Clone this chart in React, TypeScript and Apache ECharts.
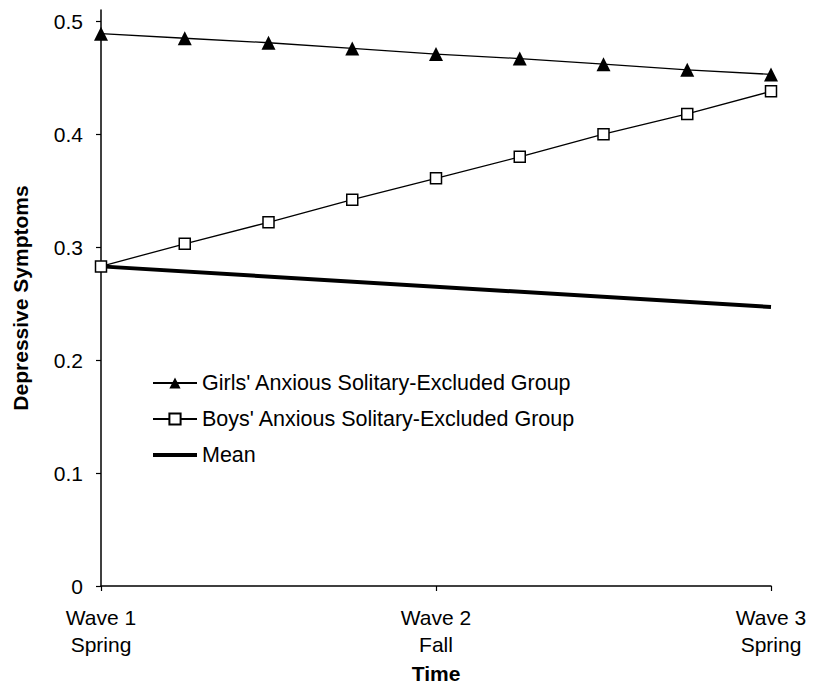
import React, { useEffect, useRef } from "react";
import * as echarts from "echarts";

const xTickLabels: Record<number, string> = { 0: "Wave 1\nSpring", 4: "Wave 2\nFall", 8: "Wave 3\nSpring" };
const xPositions = [0, 1, 2, 3, 4, 5, 6, 7, 8];
const girlsValues = [0.489, 0.485, 0.481, 0.476, 0.471, 0.467, 0.462, 0.457, 0.453];
const boysValues = [0.283, 0.303, 0.322, 0.342, 0.361, 0.38, 0.4, 0.418, 0.438];
const meanPoints: [number, number][] = [[0, 0.283], [8, 0.247]];
const yTicks = [0, 0.1, 0.2, 0.3, 0.4, 0.5];
const seriesNames = [
  "Girls' Anxious Solitary-Excluded Group",
  "Boys' Anxious Solitary-Excluded Group",
  "Mean",
];

const FONT = "'Liberation Sans', Arial, Helvetica, sans-serif";

export default function App() {
  const ref = useRef<HTMLDivElement>(null);
  useEffect(() => {
    if (!ref.current) return;
    const chart = echarts.init(ref.current, undefined, { renderer: "svg" });
    chart.setOption({
      animation: false,
      backgroundColor: "#ffffff",
      textStyle: { fontFamily: FONT, color: "#000" },
      grid: { left: 101, right: 42, top: 10, bottom: 101, containLabel: false, outerBoundsMode: "none" },
      legend: {
        orient: "vertical",
        left: 146,
        top: 367,
        itemWidth: 44,
        itemHeight: 14,
        itemGap: 14,
        textStyle: { fontFamily: FONT, fontSize: 21.5, color: "#000" },
        data: [
          { name: seriesNames[0] },
          { name: seriesNames[1] },
          {
            name: seriesNames[2],
            itemStyle: { color: "rgba(0,0,0,0)", borderWidth: 0 },
            lineStyle: { width: 4, color: "#000" },
          },
        ],
      },
      xAxis: {
        type: "value",
        min: 0,
        max: 8,
        interval: 4,
        name: "Time",
        nameLocation: "middle",
        nameGap: 76,
        nameTextStyle: { fontFamily: FONT, fontSize: 21, fontWeight: "bold", color: "#000" },
        axisLine: { onZero: false, lineStyle: { color: "#000", width: 1.5 } },
        axisTick: { show: true, length: 5, lineStyle: { color: "#000", width: 1.2 } },
        axisLabel: {
          margin: 18,
          fontSize: 21,
          lineHeight: 27,
          color: "#000",
          fontFamily: FONT,
          formatter: (v: number) => xTickLabels[v] ?? "",
        },
        splitLine: { show: false },
      },
      yAxis: {
        type: "value",
        min: 0,
        max: 0.51,
        interval: 0.1,
        name: "Depressive Symptoms",
        nameLocation: "middle",
        nameGap: 70,
        nameRotate: 90,
        nameTextStyle: { fontFamily: FONT, fontSize: 21, fontWeight: "bold", color: "#000" },
        axisLine: { show: true, lineStyle: { color: "#000", width: 1.5 } },
        axisTick: { show: true, length: 5, customValues: yTicks, lineStyle: { color: "#000", width: 1.2 } },
        axisLabel: {
          margin: 18,
          fontSize: 21,
          color: "#000",
          fontFamily: FONT,
          customValues: yTicks,
          formatter: (v: number) =>
            Math.abs(v * 10 - Math.round(v * 10)) < 1e-6 ? String(Math.round(v * 10) / 10) : "",
        },
        splitLine: { show: false },
      },
      series: [
        {
          name: seriesNames[0],
          type: "line",
          data: xPositions.map((x, i) => [x, girlsValues[i]]),
          symbol: "triangle",
          symbolSize: 14,
          itemStyle: { color: "#000" },
          lineStyle: { color: "#000", width: 1.3 },
          z: 3,
        },
        {
          name: seriesNames[1],
          type: "line",
          data: xPositions.map((x, i) => [x, boysValues[i]]),
          symbol: "rect",
          symbolSize: 11,
          itemStyle: { color: "#fff", borderColor: "#000", borderWidth: 1.5 },
          lineStyle: { color: "#000", width: 1.3 },
          z: 4,
        },
        {
          name: seriesNames[2],
          type: "line",
          data: meanPoints,
          showSymbol: false,
          symbol: "none",
          itemStyle: { color: "#000" },
          lineStyle: { color: "#000", width: 4 },
          z: 2,
        },
      ],
    });
    return () => chart.dispose();
  }, []);
  return <div ref={ref} style={{ width: 813, height: 687, position: "absolute", left: 0, top: 0 }} />;
}
